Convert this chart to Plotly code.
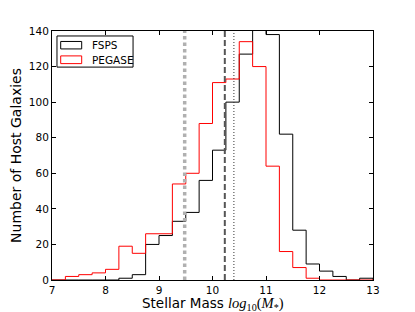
import plotly.graph_objects as go

bin_edges = [7.0 + 0.25 * i for i in range(25)]
fsps_counts = [0, 0, 0, 0, 0, 1, 3, 20, 25, 33, 38, 56, 73, 100, 127, 143,
               138, 82, 28, 9, 5, 2, 0, 1]
pegase_counts = [0, 2, 3, 4, 6, 19, 15, 26, 26, 54, 60, 88, 111, 113, 134, 120,
                 64, 16, 7, 1, 0, 0, 0, 0]
series_names = ["FSPS", "PEGASE"]
series_colors = ["black", "red"]
vline_positions = [9.48, 10.23, 10.40]
x_ticks = [7, 8, 9, 10, 11, 12, 13]
y_ticks = [0, 20, 40, 60, 80, 100, 120, 140]

FONT = "DejaVu Sans"
SERIF = "Liberation Serif"
fig = go.Figure()

for name, counts, color in zip(series_names, [fsps_counts, pegase_counts], series_colors):
    xs = [bin_edges[0]] + bin_edges + [bin_edges[-1]]
    ys = [0] + counts + [counts[-1], 0]
    fig.add_trace(go.Scatter(x=xs, y=ys, mode="lines", line=dict(color=color, width=1, shape="hv"),
                             name=name, showlegend=False, hoverinfo="skip"))

# vertical reference lines
styles = [dict(color="#b0b0b0", width=3.5, dash="3.5px,3px"),
          dict(color="#555555", width=2, dash="6px,3px"),
          dict(color="#333333", width=1, dash="1px,2px")]
for xv, st in zip(vline_positions, styles):
    fig.add_shape(type="line", xref="x", yref="paper", x0=xv, x1=xv, y0=0, y1=1,
                  line=st, layer="above")

# manual legend (matplotlib-like patches)
fig.add_shape(type="rect", xref="paper", yref="paper", x0=0.0155, x1=0.2525, y0=0.855, y1=0.980,
              line=dict(color="black", width=1), fillcolor="white", layer="above")
patch_y = [(0.928, 0.958), (0.869, 0.900)]
text_y = [0.944, 0.884]
for name, color, (py0, py1), ty in zip(series_names, series_colors, patch_y, text_y):
    fig.add_shape(type="rect", xref="paper", yref="paper", x0=0.0271, x1=0.0925, y0=py0, y1=py1,
                  line=dict(color=color, width=1), fillcolor="white", layer="above")
    fig.add_annotation(xref="paper", yref="paper", x=0.118, y=ty, text=name, showarrow=False,
                       xanchor="left", yanchor="middle", font=dict(family=FONT, size=10.5, color="black"))

# x-axis title (as annotation so it can sit just below the tick labels)
x_title = ("Stellar Mass <span style='font-family:" + SERIF + ";font-size:14.5px'>"
           "<i>log</i><sub>10</sub>(<i>M</i><sub>*</sub>)</span>")
fig.add_annotation(xref="paper", yref="paper", x=0.5, y=0, yshift=-23.5, text=x_title,
                   showarrow=False, xanchor="center", yanchor="middle", borderpad=0,
                   font=dict(family=FONT, size=13.5, color="black"))

axis_common = dict(showline=True, linecolor="black", linewidth=1, mirror="ticks", ticks="inside",
                   ticklen=4, tickcolor="black", showgrid=False, zeroline=False,
                   tickfont=dict(family=FONT, size=10.5, color="black"))
fig.update_xaxes(range=[7, 13], tickvals=x_ticks, ticktext=[str(v) for v in x_ticks],
                 **axis_common)
fig.update_yaxes(range=[0, 140], tickvals=y_ticks, ticktext=[str(v) for v in y_ticks],
                 title=dict(text="Number of Host Galaxies",
                            font=dict(family=FONT, size=14, color="black"), standoff=3),
                 **axis_common)
fig.update_layout(width=415, height=312, margin=dict(l=44, r=50, t=23, b=40, autoexpand=False),
                  plot_bgcolor="white", paper_bgcolor="white", showlegend=False)
fig.write_html("out.html")
